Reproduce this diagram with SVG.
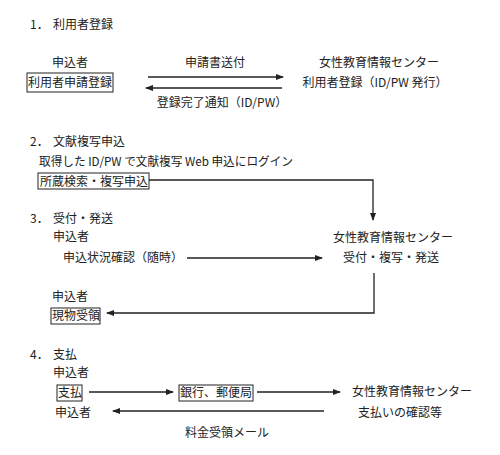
<svg xmlns="http://www.w3.org/2000/svg" width="500" height="455" viewBox="0 0 500 455">
<defs>
<style>
text{font-family:"Noto Sans CJK JP","DejaVu Sans",sans-serif;font-size:12px;fill:#222}
.m{text-anchor:middle}
.box{fill:#fff;stroke:#222;stroke-width:1}
.ln{fill:none;stroke:#222;stroke-width:1.3}
</style>
<marker id="ah" markerWidth="8" markerHeight="6" refX="7" refY="3" orient="auto" markerUnits="userSpaceOnUse">
<path d="M0,0 L8,3 L0,6 Z" fill="#222"/>
</marker>
</defs>
<rect width="500" height="455" fill="#fff"/>

<g id="headings">
<text x="30" y="29">1．</text><text x="53" y="29">利用者登録</text>
<text x="30" y="146">2．</text><text x="53" y="146">文献複写申込</text>
<text x="30" y="223">3．</text><text x="53" y="223">受付・発送</text>
<text x="30" y="359">4．</text><text x="53" y="359">支払</text>
</g>

<g id="s1-user">
<text class="m" x="70" y="67">申込者</text>
<rect class="box" x="27" y="73" width="86" height="19"/>
<text class="m" x="70" y="87">利用者申請登録</text>
</g>
<g id="s1-center">
<text class="m" x="379" y="67">女性教育情報センター</text>
<text class="m" x="375" y="87">利用者登録（ID/PW 発行）</text>
</g>
<g id="s1-labels">
<text class="m" x="215" y="67">申請書送付</text>
<text class="m" x="222" y="107">登録完了通知（ID/PW）</text>
</g>

<g id="s2">
<text x="39" y="166" textLength="254" lengthAdjust="spacingAndGlyphs">取得した ID/PW で文献複写 Web 申込にログイン</text>
<rect class="box" x="38" y="173" width="111" height="16"/>
<text x="40" y="186">所蔵検索・複写申込</text>
</g>

<g id="s3-user">
<text x="53" y="241">申込者</text>
<text x="63" y="262">申込状況確認（随時）</text>
</g>
<g id="s3-center">
<text class="m" x="393" y="242">女性教育情報センター</text>
<text class="m" x="391" y="262">受付・複写・発送</text>
</g>
<g id="s3-receive">
<text x="52" y="301">申込者</text>
<rect class="box" x="51" y="308" width="49" height="16"/>
<text x="52" y="320">現物受領</text>
</g>

<g id="s4-user">
<text x="53" y="377">申込者</text>
<rect class="box" x="57" y="385" width="25" height="16"/>
<text x="58" y="397">支払</text>
<text x="55" y="417">申込者</text>
</g>
<g id="s4-bank">
<rect class="box" x="179" y="385" width="74" height="16"/>
<text x="180" y="397">銀行、郵便局</text>
</g>
<g id="s4-center">
<text x="352" y="396">女性教育情報センター</text>
<text x="358" y="417">支払いの確認等</text>
<text class="m" x="227" y="437">料金受領メール</text>
</g>

<g id="connectors">
<line class="ln" x1="148" y1="77" x2="283" y2="77" marker-end="url(#ah)"/>
<line class="ln" x1="282" y1="88" x2="146" y2="88" marker-end="url(#ah)"/>
<polyline class="ln" points="149,180 373,180 373,220" marker-end="url(#ah)"/>
<line class="ln" x1="187" y1="258" x2="322" y2="258" marker-end="url(#ah)"/>
<polyline class="ln" points="374,273 374,313 107,313" marker-end="url(#ah)"/>
<line class="ln" x1="89" y1="392" x2="173" y2="392" marker-end="url(#ah)"/>
<line class="ln" x1="257" y1="392" x2="340" y2="392" marker-end="url(#ah)"/>
<line class="ln" x1="324" y1="411" x2="113" y2="411" marker-end="url(#ah)"/>
</g>
</svg>
